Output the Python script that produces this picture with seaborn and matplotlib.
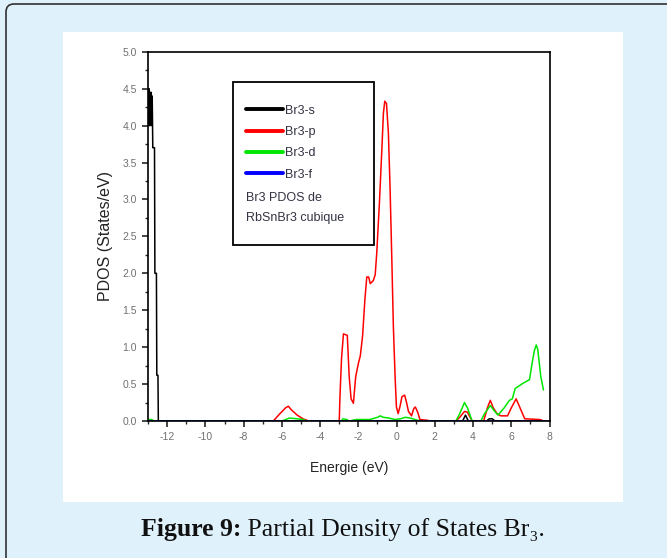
import matplotlib
matplotlib.use("Agg")
import matplotlib.pyplot as plt
import seaborn as sns
import pandas as pd
from matplotlib.lines import Line2D
from matplotlib.patches import Rectangle, FancyBboxPatch
from matplotlib.ticker import MultipleLocator, FormatStrFormatter
from matplotlib.transforms import IdentityTransform

sns.set_style("ticks")
plt.rcParams['font.family'] = ['Liberation Sans', 'DejaVu Sans']
plt.rcParams['axes.unicode_minus'] = False

# --- data (energy in eV, PDOS in states/eV) ---
s_energy = [-13.0, -12.97, -12.95, -12.93, -12.91, -12.89, -12.87, -12.85, -12.83, -12.81,
            -12.78, -12.75, -12.72, -12.66, -12.64, -12.56, -12.54, -12.48, -12.46,
            3.2, 3.45, 3.6, 3.75, 3.9, 4.7, 4.85, 5.0, 5.15, 5.3, 7.7]
s_pdos = [4.5, 4.0, 4.5, 4.0, 4.45, 4.0, 4.45, 4.05, 4.45, 4.0,
          4.4, 3.7, 3.7, 3.7, 2.0, 2.0, 0.62, 0.62, 0.0,
          0.0, 0.0, 0.08, 0.0, 0.0, 0.0, 0.03, 0.03, 0.0, 0.0, 0.0]

p_energy = [-13.0, -6.45, -6.1, -5.8, -5.66, -5.5, -5.2, -4.9, -4.6, -3.0,
            -2.96, -2.88, -2.78, -2.58, -2.48, -2.38, -2.26, -2.14, -2.0, -1.9,
            -1.78, -1.66, -1.56, -1.46, -1.38, -1.22, -1.12, -1.04, -0.9, -0.78,
            -0.69, -0.62, -0.53, -0.43, -0.34, -0.25, -0.17, -0.08, -0.01, 0.08,
            0.18, 0.28, 0.42, 0.52, 0.62, 0.78, 0.9, 0.98, 1.1, 1.22,
            1.6, 1.75, 3.1, 3.3, 3.55, 3.7, 3.95, 4.55, 4.75, 4.9,
            5.05, 5.25, 5.45, 5.8, 6.0, 6.25, 6.45, 6.7, 7.5, 7.7]
p_pdos = [0.0, 0.0, 0.1, 0.18, 0.2, 0.15, 0.08, 0.03, 0.0, 0.0,
          0.35, 0.85, 1.18, 1.16, 0.6, 0.3, 0.24, 0.6, 0.78, 0.88,
          1.15, 1.64, 1.95, 1.95, 1.86, 1.9, 1.98, 2.27, 2.95, 3.63,
          4.17, 4.33, 4.3, 3.9, 3.13, 2.18, 1.28, 0.6, 0.19, 0.1,
          0.2, 0.33, 0.35, 0.25, 0.13, 0.07, 0.17, 0.19, 0.12, 0.02,
          0.01, 0.0, 0.0, 0.05, 0.13, 0.12, 0.0, 0.0, 0.18, 0.28,
          0.18, 0.1, 0.07, 0.07, 0.18, 0.3, 0.18, 0.03, 0.02, 0.0]

d_energy = [-13.0, -12.8, -12.7, -6.0, -5.8, -5.6, -5.2, -4.9, -4.7, -2.9,
            -2.8, -2.6, -2.5, -2.1, -1.4, -1.0, -0.85, -0.7, -0.4, -0.1,
            0.2, 0.45, 0.7, 1.1, 1.3, 3.1, 3.3, 3.55, 3.7, 3.95,
            4.4, 4.6, 4.9, 5.1, 5.3, 5.6, 5.9, 6.05, 6.2, 6.6,
            6.95, 7.07, 7.2, 7.3, 7.38, 7.54, 7.68]
d_pdos = [0.02, 0.02, 0.0, 0.0, 0.02, 0.04, 0.03, 0.02, 0.0, 0.0,
          0.03, 0.02, 0.0, 0.02, 0.02, 0.05, 0.07, 0.05, 0.04, 0.02,
          0.03, 0.05, 0.04, 0.01, 0.0, 0.0, 0.1, 0.25, 0.18, 0.0,
          0.0, 0.1, 0.21, 0.14, 0.08, 0.17, 0.28, 0.3, 0.44, 0.51,
          0.56, 0.76, 0.95, 1.03, 0.97, 0.6, 0.42]

f_energy = [-13.0, 8.0]
f_pdos = [0.0, 0.0]

series_names = ["Br3-s", "Br3-p", "Br3-d", "Br3-f"]
series_colors = ["#000000", "#ff0000", "#00e600", "#0000ff"]
note_lines = ["Br3 PDOS de", "RbSnBr3 cubique"]

x_ticks = list(range(-12, 9, 2))
y_ticks = [0.0, 0.5, 1.0, 1.5, 2.0, 2.5, 3.0, 3.5, 4.0, 4.5, 5.0]

# --- figure and page background ---
fig = plt.figure(figsize=(6.67, 5.58), dpi=100)
fig.patch.set_facecolor("#dff1fb")
frame = FancyBboxPatch((6, -20), 700, 574, boxstyle="round,pad=0,rounding_size=8",
                       transform=IdentityTransform(), facecolor="#dff1fb",
                       edgecolor="#333333", linewidth=1.2, zorder=-2)
fig.add_artist(frame)
panel = Rectangle((63 / 667, 56 / 558), 560 / 667, 470 / 558, transform=fig.transFigure,
                  facecolor="white", edgecolor="none", zorder=-1)
fig.add_artist(panel)

ax = fig.add_axes([0.2219, 0.2455, 0.6021, 0.6618])
ax.set_facecolor("white")

pairs = [(s_energy, s_pdos), (p_energy, p_pdos), (d_energy, d_pdos), (f_energy, f_pdos)]
for (xe, yp), name, col in zip(pairs, series_names, series_colors):
    df = pd.DataFrame({"E": xe, "PDOS": yp})
    sns.lineplot(data=df, x="E", y="PDOS", sort=False, estimator=None,
                 color=col, linewidth=1.1, ax=ax, legend=False)

ax.set_xlim(-13, 8)
ax.set_ylim(0, 5)
ax.set_xticks(x_ticks)
ax.set_yticks(y_ticks)
ax.xaxis.set_minor_locator(MultipleLocator(1))
ax.yaxis.set_minor_locator(MultipleLocator(0.25))
ax.yaxis.set_major_formatter(FormatStrFormatter("%.1f"))
ax.tick_params(which="major", direction="out", length=4, width=1.2,
               labelsize=7.5, labelcolor="#707070", pad=4)
ax.tick_params(which="minor", direction="out", length=2.5, width=1.0)
for sp in ax.spines.values():
    sp.set_linewidth(1.2)
    sp.set_color("black")

ax.set_xlabel("Energie (eV)", fontsize=10, color="#222222")
ax.set_ylabel("PDOS (States/eV)", fontsize=11.5, color="#222222")
ax.xaxis.set_label_coords(0.5, -0.108)
ax.yaxis.set_label_coords(-0.087, 0.5)

# legend box with its note text
ax.add_patch(Rectangle((0.2125, 0.4766), 0.3505, 0.4422, transform=ax.transAxes,
                       facecolor="white", edgecolor="black", linewidth=1.3, zorder=5))
handles = [Line2D([], [], color=c, linewidth=2.8) for c in series_colors]
leg = ax.legend(handles, series_names, loc="upper left", bbox_to_anchor=(0.244, 0.857),
                frameon=False, borderpad=0, borderaxespad=0, fontsize=9,
                handlelength=3.0, handletextpad=0.15, labelspacing=0.75)
leg.set_zorder(6)
for t in leg.get_texts():
    t.set_color("#333344")
for txt, yy in zip(note_lines, [0.603, 0.549]):
    ax.text(0.244, yy, txt, transform=ax.transAxes, fontsize=9, color="#333344",
            va="center", ha="left", zorder=7)

# caption
cap_fam = ["Liberation Serif", "DejaVu Serif"]
t1 = fig.text(0, 22 / 558, "Figure 9:", fontsize=18.5, fontweight="bold",
              family=cap_fam, color="#111111", va="baseline", ha="left")
t2 = fig.text(0, 22 / 558, " Partial Density of States Br\u2083.", fontsize=18.5,
              family=cap_fam, color="#111111", va="baseline", ha="left")
fig.canvas.draw()
r = fig.canvas.get_renderer()
w1 = t1.get_window_extent(renderer=r).width
w2 = t2.get_window_extent(renderer=r).width
x0 = 343 - (w1 + w2) / 2
t1.set_x(x0 / 667)
t2.set_x((x0 + w1) / 667)

fig.savefig("out.png", dpi=100, facecolor=fig.get_facecolor())
